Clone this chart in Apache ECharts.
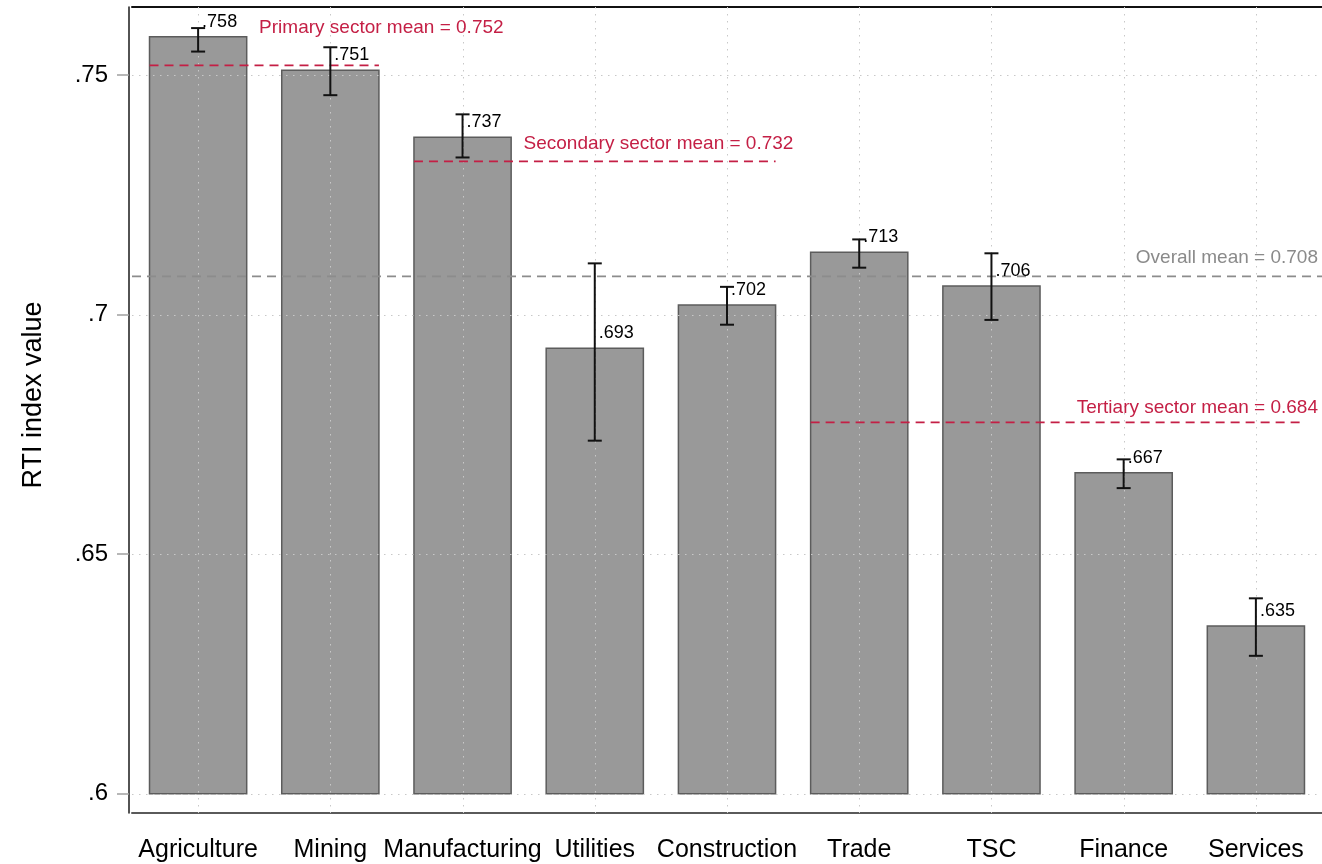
<!DOCTYPE html>
<html><head><meta charset="utf-8">
<script src="https://cdn.jsdelivr.net/npm/echarts@6/dist/echarts.min.js"></script>
<style>html,body{margin:0;padding:0;background:#fff}#c{width:1322px;height:864px}</style>
</head><body><div id="c"></div>
<script>
// ---------------- DATA ----------------
const categories = ['Agriculture','Mining','Manufacturing','Utilities','Construction','Trade','TSC','Finance','Services'];
const rtiValues = [0.758, 0.751, 0.737, 0.693, 0.702, 0.713, 0.706, 0.667, 0.635];
const ciLower  = [0.7549, 0.7458, 0.7328, 0.6737, 0.6979, 0.7098, 0.6989, 0.6638, 0.6288];
const ciUpper  = [0.7598, 0.7558, 0.7418, 0.7107, 0.7058, 0.7157, 0.7128, 0.6698, 0.6408];
const yTicks = [0.6, 0.65, 0.7, 0.75];
const barBase = 0.6;
const meanLabels = ['Primary sector mean = 0.752', 'Secondary sector mean = 0.732', 'Tertiary sector mean = 0.684', 'Overall mean = 0.708'];
const meanValues = [0.752, 0.732, 0.6775, 0.708];
const meanFrom = [0, 2, 5, -1];   // first category of the group (-1 = whole plot)
const meanTo   = [1, 4, 8, -1];   // last category of the group

// ---------------- STYLE ----------------
const FONT = '"Liberation Sans", Arial, Helvetica, sans-serif';
const BAR_FRAC = 0.735;
const RED = '#c41f45';
const meanStyle = [
  {line: RED, text: RED, align: 'left', dx: 61, dy: -38},
  {line: RED, text: RED, align: 'left', dx: 61, dy: -18},
  {line: RED, text: RED, align: 'right', dx: -4, dy: -15},
  {line: '#8c8c8c', text: '#8a8a8a', align: 'right', dx: -4, dy: -19}
];

function fmt(v, d) { return v.toFixed(d).replace(/^0/, '').replace(/0+$/, ''); }

function renderBar(params, api) {
  const i = api.value(0), v = api.value(1);
  const top = api.coord([i, v]);
  const base = api.coord([i, barBase]);
  const w = api.size([1, 0])[0] * BAR_FRAC;
  return {type: 'rect', shape: {x: top[0] - w / 2, y: top[1], width: w, height: base[1] - top[1]},
    style: {fill: '#999999', stroke: '#5c5c5c', lineWidth: 1.5}};
}
function renderVGrid(params, api) {
  const cs = params.coordSys;
  const x = Math.round(api.coord([api.value(0), barBase])[0]) + 0.5;
  return {type: 'line', shape: {x1: x, y1: cs.y, x2: x, y2: cs.y + cs.height},
    style: {stroke: '#c8c8c8', lineWidth: 1, lineDash: [1.5, 5.5]}};
}
function renderHGrid(params, api) {
  const cs = params.coordSys;
  const y = Math.round(api.coord([0, api.value(1)])[1]) + 0.5;
  return {type: 'line', shape: {x1: cs.x, y1: y, x2: cs.x + cs.width, y2: y},
    style: {stroke: '#c8c8c8', lineWidth: 1, lineDash: [1.5, 5.5]}};
}
function renderMean(params, api) {
  const i = params.dataIndex;
  const cs = params.coordSys;
  const y = api.coord([0, api.value(1)])[1];
  const half = api.size([1, 0])[0] * BAR_FRAC / 2;
  let x1, x2;
  if (meanFrom[i] < 0) { x1 = cs.x; x2 = cs.x + cs.width; }
  else { x1 = api.coord([meanFrom[i], barBase])[0] - half; x2 = api.coord([meanTo[i], barBase])[0] + half; }
  const st = meanStyle[i];
  const tx = st.align === 'left' ? api.coord([meanFrom[i], barBase])[0] + st.dx : cs.x + cs.width + st.dx;
  return {type: 'group', children: [
    {type: 'line', shape: {x1: x1, y1: y, x2: x2, y2: y}, style: {stroke: st.line, lineWidth: 1.8, lineDash: [9, 6]}},
    {type: 'text', x: tx, y: y + st.dy, style: {text: meanLabels[i], fill: st.text, font: '19px ' + FONT, align: st.align, verticalAlign: 'middle'}}
  ]};
}
function renderErr(params, api) {
  const i = api.value(0), v = api.value(1), lo = api.value(2), hi = api.value(3);
  const pHi = api.coord([i, hi]), pLo = api.coord([i, lo]), pV = api.coord([i, v]);
  const x = pHi[0], cap = 7;
  const ls = {stroke: '#111', lineWidth: 2};
  return {type: 'group', children: [
    {type: 'line', shape: {x1: x, y1: pHi[1], x2: x, y2: pLo[1]}, style: ls},
    {type: 'line', shape: {x1: x - cap, y1: pHi[1], x2: x + cap, y2: pHi[1]}, style: ls},
    {type: 'line', shape: {x1: x - cap, y1: pLo[1], x2: x + cap, y2: pLo[1]}, style: ls},
    {type: 'text', x: x + 4, y: pV[1] - 15, style: {text: fmt(v, 3), fill: '#000', font: '18px ' + FONT, align: 'left', verticalAlign: 'middle'}}
  ]};
}

const chart = echarts.init(document.getElementById('c'), null, {renderer: 'canvas'});
chart.setOption({
  backgroundColor: '#fff',
  animation: false,
  textStyle: {fontFamily: FONT},
  grid: {left: 132, right: 0, top: 7, bottom: 51},
  xAxis: [
    {type: 'category', data: categories, position: 'bottom',
      axisLine: {lineStyle: {color: '#5a5a5a', width: 2}},
      axisTick: {alignWithLabel: true, length: 15, lineStyle: {color: '#a0a0a0', width: 1.5}},
      axisLabel: {fontSize: 25, color: '#000', margin: 25, fontFamily: FONT, interval: 0},
      splitLine: {show: false}},
    {type: 'category', data: categories, position: 'top',
      axisLine: {lineStyle: {color: '#111', width: 2}},
      axisTick: {show: false}, axisLabel: {show: false}, splitLine: {show: false}}
  ],
  yAxis: {type: 'value', min: 0.596, max: 0.7642, offset: 3,
    axisLine: {show: true, lineStyle: {color: '#1a1a1a', width: 1.5}},
    axisTick: {show: true, customValues: yTicks, length: 12, lineStyle: {color: '#a0a0a0', width: 1.5}},
    axisLabel: {customValues: yTicks, formatter: v => fmt(v, 2), fontSize: 24, color: '#000', margin: 21, fontFamily: FONT},
    splitLine: {show: false},
    name: 'RTI index value', nameLocation: 'middle', nameGap: 82,
    nameTextStyle: {fontSize: 27, color: '#000', fontFamily: FONT, padding: [0, 0, 0, 30]}},
  series: [
    {type: 'custom', renderItem: renderBar, z: 2, encode: {x: 0, y: 1},
      data: rtiValues.map((v, i) => [i, v])},
    {type: 'custom', renderItem: renderVGrid, z: 3, encode: {x: 0, y: 1}, silent: true,
      data: categories.map((c, i) => [i, barBase])},
    {type: 'custom', renderItem: renderHGrid, z: 3, encode: {x: 0, y: 1}, silent: true,
      data: yTicks.map(v => [0, v])},
    {type: 'custom', renderItem: renderMean, z: 4, encode: {x: 0, y: 1},
      data: meanValues.map(v => [0, v])},
    {type: 'custom', renderItem: renderErr, z: 5, encode: {x: 0, y: 1},
      data: rtiValues.map((v, i) => [i, v, ciLower[i], ciUpper[i]])}
  ]
});
</script>
</body></html>
